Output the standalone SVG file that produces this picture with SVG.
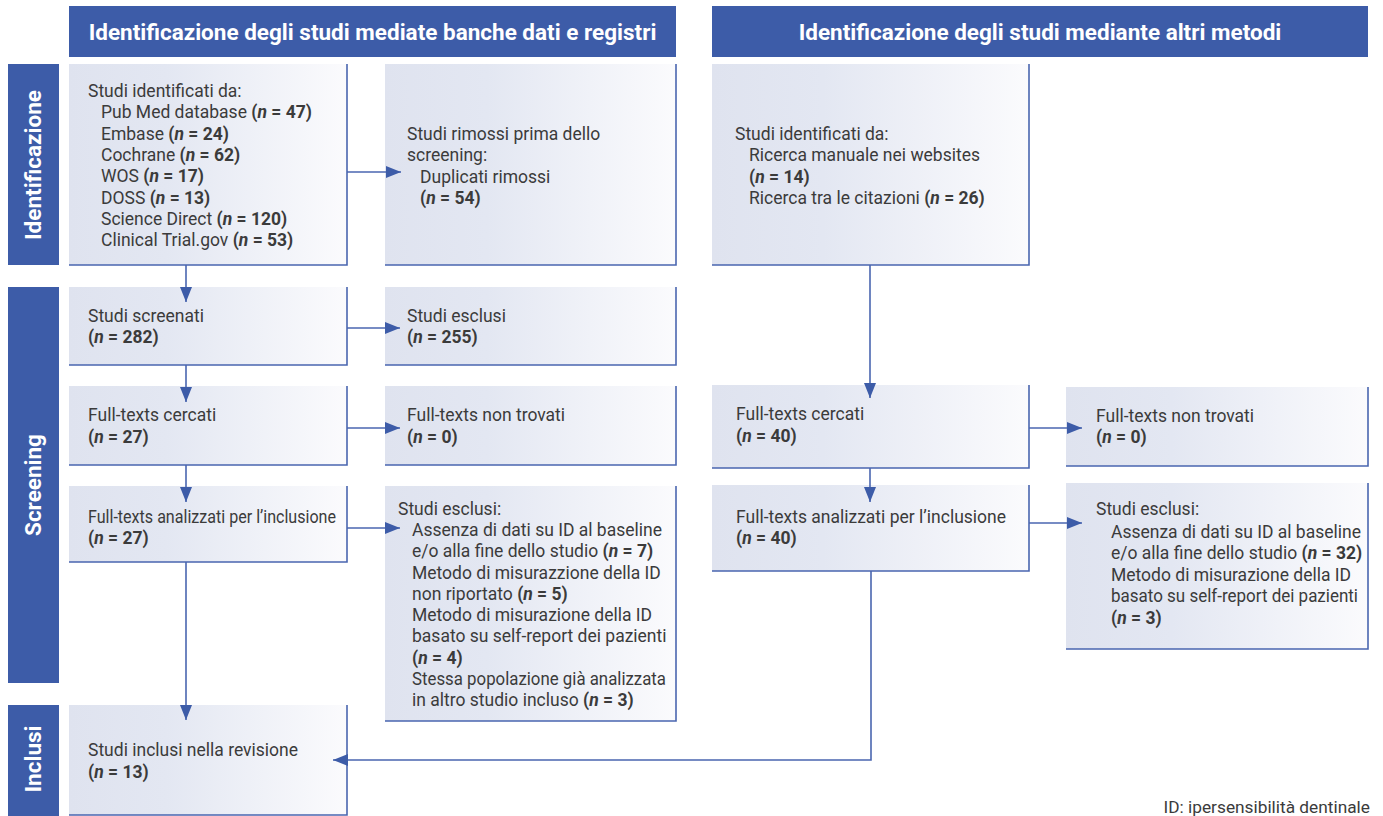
<svg xmlns="http://www.w3.org/2000/svg" width="1383" height="816" viewBox="0 0 1383 816">
<style>
.hdr{fill:#3d5ca8}
.htxt{font-family:Roboto,"Liberation Sans",sans-serif;font-weight:bold;font-size:22.5px;fill:#ffffff;text-anchor:middle}
.stxt{font-family:Roboto,"Liberation Sans",sans-serif;font-weight:bold;font-size:22.5px;fill:#ffffff;text-anchor:middle}
.bx{fill:url(#gr)}
.bd{fill:none;stroke:#4a66b0;stroke-width:1.6}
.t{font-family:Roboto,"Liberation Sans",sans-serif;font-size:17.5px;fill:#3b3b3b}
.b{font-weight:bold}
.i{font-style:italic}
.edge{fill:none;stroke:#4a66b0;stroke-width:1.6}
</style>
<defs>
<linearGradient id="gr" x1="0" y1="0" x2="1" y2="0">
<stop offset="0" stop-color="#dfe3ef"/>
<stop offset="0.35" stop-color="#e3e7f2"/>
<stop offset="1" stop-color="#fbfbfd"/>
</linearGradient>
<marker id="ah" markerUnits="userSpaceOnUse" markerWidth="15" markerHeight="12" refX="15" refY="6" orient="auto">
<path d="M0,0 L15,6 L0,12 z" fill="#3d5ca8"/>
</marker>
</defs>
<rect width="1383" height="816" fill="#ffffff"/>

<g id="header-left">
<rect class="hdr" x="69" y="6" width="607" height="51"/>
<text class="htxt" x="372.5" y="40">Identificazione degli studi mediate banche dati e registri</text>
</g>
<g id="header-right">
<rect class="hdr" x="712" y="6" width="656" height="51"/>
<text class="htxt" x="1040" y="40">Identificazione degli studi mediante altri metodi</text>
</g>

<g id="side-identificazione">
<rect class="hdr" x="8" y="64" width="51" height="201"/>
<text class="stxt" transform="translate(41,165) rotate(-90)">Identificazione</text>
</g>
<g id="side-screening">
<rect class="hdr" x="8" y="287" width="51" height="396"/>
<text class="stxt" transform="translate(41,485) rotate(-90)">Screening</text>
</g>
<g id="side-inclusi">
<rect class="hdr" x="8" y="705" width="51" height="111"/>
<text class="stxt" transform="translate(41,759) rotate(-90)">Inclusi</text>
</g>

<g id="box-identified-db">
<rect class="bx" x="69" y="64" width="278" height="201"/>
<path class="bd" d="M347,64 V265 H69"/>
<text class="t" x="88" y="97">Studi identificati da:</text>
<text class="t" x="101" y="118">Pub Med database <tspan class="b">(<tspan class="i">n</tspan> = 47)</tspan></text>
<text class="t" x="101" y="139.5">Embase <tspan class="b">(<tspan class="i">n</tspan> = 24)</tspan></text>
<text class="t" x="101" y="161">Cochrane <tspan class="b">(<tspan class="i">n</tspan> = 62)</tspan></text>
<text class="t" x="101" y="182">WOS <tspan class="b">(<tspan class="i">n</tspan> = 17)</tspan></text>
<text class="t" x="101" y="203.5">DOSS <tspan class="b">(<tspan class="i">n</tspan> = 13)</tspan></text>
<text class="t" x="101" y="225">Science Direct <tspan class="b">(<tspan class="i">n</tspan> = 120)</tspan></text>
<text class="t" x="101" y="246">Clinical Trial.gov <tspan class="b">(<tspan class="i">n</tspan> = 53)</tspan></text>
</g>

<g id="box-removed">
<rect class="bx" x="385" y="64" width="291" height="201"/>
<path class="bd" d="M676,64 V265 H385"/>
<text class="t" x="407" y="140">Studi rimossi prima dello</text>
<text class="t" x="407" y="161">screening:</text>
<text class="t" x="420" y="182.5">Duplicati rimossi</text>
<text class="t" x="420" y="204"><tspan class="b">(<tspan class="i">n</tspan> = 54)</tspan></text>
</g>

<g id="box-screened">
<rect class="bx" x="69" y="287" width="278" height="78"/>
<path class="bd" d="M347,287 V365 H69"/>
<text class="t" x="88" y="322">Studi screenati</text>
<text class="t" x="88" y="343"><tspan class="b">(<tspan class="i">n</tspan> = 282)</tspan></text>
</g>

<g id="box-excluded-screen">
<rect class="bx" x="385" y="287" width="291" height="78"/>
<path class="bd" d="M676,287 V365 H385"/>
<text class="t" x="407" y="322">Studi esclusi</text>
<text class="t" x="407" y="343"><tspan class="b">(<tspan class="i">n</tspan> = 255)</tspan></text>
</g>

<g id="box-sought-db">
<rect class="bx" x="69" y="386" width="278" height="79"/>
<path class="bd" d="M347,386 V465 H69"/>
<text class="t" x="88" y="421">Full-texts cercati</text>
<text class="t" x="88" y="443"><tspan class="b">(<tspan class="i">n</tspan> = 27)</tspan></text>
</g>

<g id="box-notfound-db">
<rect class="bx" x="385" y="386" width="291" height="79"/>
<path class="bd" d="M676,386 V465 H385"/>
<text class="t" x="407" y="421">Full-texts non trovati</text>
<text class="t" x="407" y="443"><tspan class="b">(<tspan class="i">n</tspan> = 0)</tspan></text>
</g>

<g id="box-assessed-db">
<rect class="bx" x="69" y="486" width="278" height="76"/>
<path class="bd" d="M347,486 V562 H69"/>
<text class="t" x="88" y="523" textLength="248" lengthAdjust="spacingAndGlyphs">Full-texts analizzati per l’inclusione</text>
<text class="t" x="88" y="544"><tspan class="b">(<tspan class="i">n</tspan> = 27)</tspan></text>
</g>

<g id="box-excluded-db">
<rect class="bx" x="385" y="486" width="291" height="235"/>
<path class="bd" d="M676,486 V721 H385"/>
<text class="t" x="398" y="515">Studi esclusi:</text>
<text class="t" x="412" y="536">Assenza di dati su ID al baseline</text>
<text class="t" x="412" y="557">e/o alla fine dello studio <tspan class="b">(<tspan class="i">n</tspan> = 7)</tspan></text>
<text class="t" x="412" y="578.5">Metodo di misurazzione della ID</text>
<text class="t" x="412" y="600">non riportato <tspan class="b">(<tspan class="i">n</tspan> = 5)</tspan></text>
<text class="t" x="412" y="621">Metodo di misurazione della ID</text>
<text class="t" x="412" y="642">basato su self-report dei pazienti</text>
<text class="t" x="412" y="663.5"><tspan class="b">(<tspan class="i">n</tspan> = 4)</tspan></text>
<text class="t" x="412" y="685" textLength="254" lengthAdjust="spacingAndGlyphs">Stessa popolazione già analizzata</text>
<text class="t" x="412" y="706">in altro studio incluso <tspan class="b">(<tspan class="i">n</tspan> = 3)</tspan></text>
</g>

<g id="box-included">
<rect class="bx" x="69" y="705" width="278" height="110"/>
<path class="bd" d="M347,705 V815 H69"/>
<text class="t" x="88" y="756">Studi inclusi nella revisione</text>
<text class="t" x="88" y="778"><tspan class="b">(<tspan class="i">n</tspan> = 13)</tspan></text>
</g>

<g id="box-identified-other">
<rect class="bx" x="712" y="64" width="317" height="201"/>
<path class="bd" d="M1029,64 V265 H712"/>
<text class="t" x="735" y="140">Studi identificati da:</text>
<text class="t" x="749" y="161">Ricerca manuale nei websites</text>
<text class="t" x="749" y="183"><tspan class="b">(<tspan class="i">n</tspan> = 14)</tspan></text>
<text class="t" x="749" y="204">Ricerca tra le citazioni <tspan class="b">(<tspan class="i">n</tspan> = 26)</tspan></text>
</g>

<g id="box-sought-other">
<rect class="bx" x="712" y="385" width="317" height="83"/>
<path class="bd" d="M1029,385 V468 H712"/>
<text class="t" x="736" y="420">Full-texts cercati</text>
<text class="t" x="736" y="442"><tspan class="b">(<tspan class="i">n</tspan> = 40)</tspan></text>
</g>

<g id="box-notfound-other">
<rect class="bx" x="1066" y="387" width="302" height="79"/>
<path class="bd" d="M1368,387 V466 H1066"/>
<text class="t" x="1096" y="422">Full-texts non trovati</text>
<text class="t" x="1096" y="443"><tspan class="b">(<tspan class="i">n</tspan> = 0)</tspan></text>
</g>

<g id="box-assessed-other">
<rect class="bx" x="712" y="485" width="317" height="86"/>
<path class="bd" d="M1029,485 V571 H712"/>
<text class="t" x="736" y="523">Full-texts analizzati per l’inclusione</text>
<text class="t" x="736" y="544"><tspan class="b">(<tspan class="i">n</tspan> = 40)</tspan></text>
</g>

<g id="box-excluded-other">
<rect class="bx" x="1066" y="483" width="302" height="166"/>
<path class="bd" d="M1368,483 V649 H1066"/>
<text class="t" x="1096" y="515">Studi esclusi:</text>
<text class="t" x="1111" y="538">Assenza di dati su ID al baseline</text>
<text class="t" x="1111" y="559">e/o alla fine dello studio <tspan class="b">(<tspan class="i">n</tspan> = 32)</tspan></text>
<text class="t" x="1111" y="581">Metodo di misurazione della ID</text>
<text class="t" x="1111" y="602" textLength="247" lengthAdjust="spacingAndGlyphs">basato su self-report dei pazienti</text>
<text class="t" x="1111" y="624"><tspan class="b">(<tspan class="i">n</tspan> = 3)</tspan></text>
</g>

<g id="connectors">
<path class="edge" marker-end="url(#ah)" d="M186,265 V302"/>
<path class="edge" marker-end="url(#ah)" d="M347,172 H401"/>
<path class="edge" marker-end="url(#ah)" d="M347,328 H400"/>
<path class="edge" marker-end="url(#ah)" d="M186,365 V402"/>
<path class="edge" marker-end="url(#ah)" d="M347,428 H400"/>
<path class="edge" marker-end="url(#ah)" d="M186,465 V502"/>
<path class="edge" marker-end="url(#ah)" d="M347,528 H400"/>
<path class="edge" marker-end="url(#ah)" d="M186,562 V720"/>
<path class="edge" marker-end="url(#ah)" d="M870,265 V398"/>
<path class="edge" marker-end="url(#ah)" d="M1029,428 H1082"/>
<path class="edge" marker-end="url(#ah)" d="M870,468 V502"/>
<path class="edge" marker-end="url(#ah)" d="M1029,523 H1082"/>
<path class="edge" marker-end="url(#ah)" d="M871,571 V760 H333"/>
</g>

<text x="1370" y="813" text-anchor="end" style="font-family:Roboto,'Liberation Sans',sans-serif;font-size:17.3px;fill:#3b3b3b">ID: ipersensibilità dentinale</text>
</svg>
